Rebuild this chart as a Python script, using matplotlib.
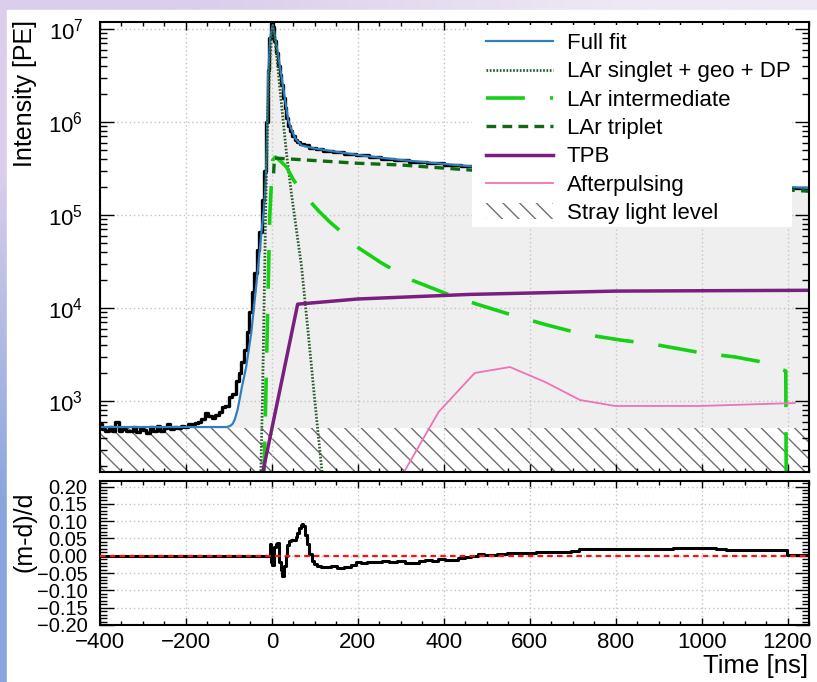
import numpy as np
import matplotlib
matplotlib.use("Agg")
from matplotlib import pyplot as plt
from matplotlib.patches import Patch, Rectangle
from matplotlib.ticker import MultipleLocator, LogLocator, FixedLocator, NullFormatter

plt.rcParams["font.family"] = ["Liberation Sans", "DejaVu Sans"]
plt.rcParams["mathtext.fontset"] = "custom"
plt.rcParams["mathtext.rm"] = "Liberation Sans"
plt.rcParams["mathtext.default"] = "regular"
plt.rcParams["lines.scale_dashes"] = False
plt.rcParams["hatch.linewidth"] = 1.0

# ---- values ----
stray_level = 510.0

data_t = [-400, -392, -384, -376, -368, -360, -352, -344, -336, -328, -320, -312, -304, -296,
          -288, -280, -272, -264, -256, -248, -240, -232, -224, -216, -208, -200, -192, -184,
          -176, -168, -160, -152, -144, -136, -128, -120, -112, -104, -96, -88, -80, -74, -68,
          -62, -56, -50, -44, -38, -32, -26, -20, -16, -12, -8, -4, 0, 4, 8, 12, 16, 20, 24,
          28, 32, 36, 40, 44, 50, 56, 62, 70, 80, 95, 110, 130, 155, 180, 210, 240, 270, 300,
          340, 380, 420, 460, 500, 600, 700, 800, 900, 1000, 1100, 1200, 1250]
data_y = [560, 500, 470, 530, 480, 590, 470, 500, 480, 470, 520, 460, 510, 490,
          450, 520, 480, 540, 470, 510, 560, 500, 520, 510, 540, 530, 560, 570,
          580, 600, 640, 740, 690, 660, 700, 760, 860, 880, 1100, 1200, 1650, 2000, 2600,
          3500, 5500, 9000, 1.5e4, 2.4e4, 4.2e4, 6.5e4, 1.45e5, 3e5, 1e6, 3.6e6, 8e6, 1.15e7,
          1.05e7, 7.5e6, 5.5e6, 4e6, 3.2e6, 2.5e6, 1.8e6, 1.4e6, 1.1e6, 9e5, 8e5, 7e5, 6.4e5,
          6.1e5, 5.8e5, 5.6e5, 5.3e5, 5.1e5, 4.9e5, 4.75e5, 4.55e5, 4.4e5, 4.2e5, 4.05e5,
          3.9e5, 3.75e5, 3.6e5, 3.45e5, 3.35e5, 3.22e5, 2.98e5, 2.75e5, 2.55e5, 2.37e5,
          2.2e5, 2.05e5, 1.95e5, 1.93e5]

fit_t = [-400, -105, -97, -91, -86, -80, -75, -70, -60, -48, -40, -32, -25, -19, -15, -12,
         -9, -4, 2, 6, 14, 26, 38, 46, 55, 69, 99, 154, 220, 302, 460, 600, 800, 1000, 1250]
fit_y = [525, 525, 540, 570, 640, 800, 1050, 1400, 2300, 5400, 1.22e4, 2.75e4, 6e4, 1.1e5,
         2e5, 5e5, 3e6, 8e6, 1.1e7, 9e6, 5.5e6, 2.4e6, 1.05e6, 8.2e5, 6.6e5, 5.6e5, 5.2e5,
         4.75e5, 4.3e5, 3.9e5, 3.35e5, 3e5, 2.6e5, 2.25e5, 1.95e5]

singlet_t = [-26, -22, -18, -14, -9, -4, 0, 2, 6, 10.5, 22, 34, 45.5, 57, 69, 84.5, 100,
             115.5, 121]
singlet_y = [150, 1e3, 1.2e4, 1.5e5, 1.5e6, 5e6, 9.5e6, 1.05e7, 8.5e6, 5.5e6, 1.6e6, 4.6e5,
             1.7e5, 7e4, 2.8e4, 5.4e3, 1.0e3, 195, 110]

inter_t = [-18.5, -11.7, -5, 0, 2, 8, 20, 34, 50, 69, 90, 111, 135, 162, 202, 255, 325, 407,
           477, 559, 640, 722, 815, 885, 1002, 1079, 1142, 1196, 1197]
inter_y = [140, 3.7e3, 9.6e4, 2.8e5, 3.9e5, 4.2e5, 3.8e5, 3.28e5, 2.4e5, 1.77e5, 1.38e5,
           1.08e5, 8.4e4, 6.56e4, 4.42e4, 3.05e4, 2.0e4, 1.42e4, 1.1e4, 8.4e3, 6.57e3, 5.25e3,
           4.5e3, 4.1e3, 3.28e3, 2.97e3, 2.62e3, 2.1e3, 100]

triplet_t = [4, 6, 100, 200, 300, 460, 800, 1250]
triplet_y = [2.8e5, 4.1e5, 3.85e5, 3.6e5, 3.45e5, 3.05e5, 2.45e5, 1.8e5]

tpb_t = [-21, 60, 200, 460, 800, 1250]
tpb_y = [172, 1.1e4, 1.25e4, 1.4e4, 1.52e4, 1.55e4]

ap_t = [300, 388, 472, 554, 636, 717, 799, 995, 1217]
ap_y = [150, 762, 2000, 2320, 1600, 1025, 884, 884, 951]

ratio_t = [-400, -4, -2.7, -1, 2.7, 8.2, 11, 14.4, 18.3, 22, 26, 30, 33.8, 37, 41.6, 47, 53,
           58, 61, 65, 68.8, 72, 75, 80, 84, 90, 96, 102, 108, 120, 131, 145, 160, 178, 190,
           201, 215, 230, 248, 265, 280, 302, 318, 333, 350, 364, 380, 395, 410, 426, 440,
           457, 472, 488, 500, 512, 535, 559, 600, 629, 660, 695, 699, 730, 932, 933, 1033,
           1034, 1080, 1199, 1200, 1250]
ratio_v = [0, 0, 0.033, -0.019, -0.028, 0.024, 0.033, 0.038, -0.019, -0.04, -0.057, -0.03,
           0.0, 0.03, 0.042, 0.045, 0.045, 0.055, 0.066, 0.08, 0.09, 0.092, 0.085, 0.06, 0.033,
           0.005, -0.014, -0.025, -0.03, -0.032, -0.033, -0.03, -0.034, -0.033, -0.026, -0.019,
           -0.022, -0.018, -0.019, -0.016, -0.019, -0.016, -0.021, -0.021, -0.015, -0.011,
           -0.014, -0.009, -0.012, -0.011, -0.007, -0.004, 0.0, 0.005, 0.003, 0.003, 0.006,
           0.008, 0.009, 0.010, 0.010, 0.010, 0.015, 0.020, 0.020, 0.023, 0.023, 0.019, 0.017,
           0.017, 0.003, 0.003]

ratio_ticks = [-0.20, -0.15, -0.10, -0.05, 0.0, 0.05, 0.10, 0.15, 0.20]
ratio_labels = ["\u22120.20", "\u22120.15", "\u22120.10", "\u22120.05", "0.00",
                "0.05", "0.10", "0.15", "0.20"]

labels = ["Full fit", "LAr singlet + geo + DP", "LAr intermediate", "LAr triplet", "TPB",
          "Afterpulsing", "Stray light level"]

W, H = 817, 682


def px(l, t, r, b):
    return [l / W, 1 - b / H, (r - l) / W, (b - t) / H]


fig = plt.figure(figsize=(W / 100, H / 100), dpi=100)

# slide background behind the white panel
bg = fig.add_axes([0, 0, 1, 1], zorder=-10)
bg.imshow(np.array([[[218, 206, 236], [238, 232, 245]],
                    [[135, 165, 220], [200, 210, 240]]]) / 255.0,
          aspect="auto", interpolation="bilinear", extent=[0, 1, 0, 1])
bg.add_patch(Rectangle((7 / W, 0), 1, 1 - 10 / H, color="white"))
bg.set_xlim(0, 1)
bg.set_ylim(0, 1)
bg.axis("off")

grid_kw = dict(color="#c4c4c4", ls=(0, (1, 2)), lw=1)

# ---- top panel ----
ax = fig.add_axes(px(100, 22, 809, 472))
ax.set_yscale("log")
ax.set_xlim(-400, 1250)
ax.set_ylim(10 ** 2.2366, 10 ** 7.0753)

fit_arr = np.array(fit_y)
ax.fill_between(fit_t, stray_level, fit_arr, where=fit_arr > stray_level, interpolate=True,
                color="#efefef", lw=0, zorder=0.3)
ax.fill_between([-400, 1250], [1, 1], [stray_level, stray_level], facecolor="white",
                edgecolor="#707070", hatch="\\\\", lw=0, zorder=0.4)
ax.set_axisbelow(True)
ax.grid(True, which="major", **grid_kw)

ax.plot(data_t, data_y, drawstyle="steps-mid", color="black", lw=2.4, zorder=2)
l_fit, = ax.plot(fit_t, fit_y, color="#2f7fc0", lw=1.6, zorder=2.2)
l_sing, = ax.plot(singlet_t, singlet_y, color="#2c5a2c", lw=2.0, ls=(0, (1.2, 1.2)), zorder=2.4)
l_int, = ax.plot(inter_t, inter_y, color="#16d016", lw=2.6, ls=(0, (28, 18)), zorder=2.4)
l_trip, = ax.plot(triplet_t, triplet_y, color="#0f6a14", lw=2.4, ls=(0, (7, 4.5)), zorder=2.4)
l_tpb, = ax.plot(tpb_t, tpb_y, color="#7a1f80", lw=2.5, zorder=2.4)
l_ap, = ax.plot(ap_t, ap_y, color="#ee72b8", lw=1.3, zorder=2.4)
stray_patch = Patch(facecolor="white", edgecolor="#707070", hatch="\\\\", lw=0)

ax.xaxis.set_major_locator(MultipleLocator(200))
ax.xaxis.set_minor_locator(MultipleLocator(50))
ax.yaxis.set_major_locator(LogLocator(base=10, numticks=15))
ax.yaxis.set_minor_locator(LogLocator(base=10, subs=np.arange(2, 10), numticks=15))
ax.yaxis.set_minor_formatter(NullFormatter())
ax.tick_params(which="both", direction="in", top=True, right=True, labelbottom=False, width=1)
ax.tick_params(axis="y", which="major", length=10, labelsize=16, pad=12)
ax.tick_params(axis="y", which="minor", length=5)
ax.tick_params(axis="x", which="major", length=6)
ax.tick_params(axis="x", which="minor", length=3)
for s in ax.spines.values():
    s.set_linewidth(1.5)

ax.add_patch(Rectangle((472 / W, 1 - 227 / H), 320 / W, 202 / H, transform=fig.transFigure,
                       facecolor="white", edgecolor="none", zorder=4))
ax.legend([l_fit, l_sing, l_int, l_trip, l_tpb, l_ap, stray_patch], labels,
          loc="upper left", bbox_to_anchor=(486 / W, 1 - 33 / H), bbox_transform=fig.transFigure,
          frameon=False, fontsize=16, handlelength=3.0, handletextpad=0.63, labelspacing=0.33,
          borderpad=0, borderaxespad=0)

# ---- ratio panel ----
axr = fig.add_axes(px(100, 481, 809, 625))
axr.set_xlim(-400, 1250)
axr.set_ylim(-0.2, 0.216)
axr.set_axisbelow(True)
axr.grid(True, which="major", **grid_kw)
axr.plot(ratio_t, ratio_v, drawstyle="steps-mid", color="black", lw=2.2, zorder=2)
axr.axhline(0, color="#ff1010", lw=1.6, ls=(0, (4, 3)), zorder=3)

axr.xaxis.set_major_locator(MultipleLocator(200))
axr.xaxis.set_minor_locator(MultipleLocator(50))
axr.yaxis.set_major_locator(FixedLocator(ratio_ticks))
axr.set_yticklabels(ratio_labels)
axr.yaxis.set_minor_locator(MultipleLocator(0.01))
axr.tick_params(which="both", direction="in", top=True, right=True, width=1)
# the ratio labels sit close together, as in the original ROOT figure
axr.tick_params(axis="y", which="major", length=10, labelsize=14.5, pad=9)
axr.tick_params(axis="y", which="minor", length=5)
axr.tick_params(axis="x", which="major", length=5, labelsize=16, pad=5)
axr.tick_params(axis="x", which="minor", length=3)
for s in axr.spines.values():
    s.set_linewidth(1.5)

fig.text(25 / W, 1 - 20 / H, "Intensity [PE]", rotation=90, ha="center", va="top", fontsize=18)
fig.text(24 / W, 1 - 492 / H, "(m-d)/d", rotation=90, ha="center", va="top", fontsize=18)
fig.text(808 / W, 1 - 666 / H, "Time [ns]", ha="right", va="center", fontsize=18.5)

fig.savefig("out.png", dpi=100)
